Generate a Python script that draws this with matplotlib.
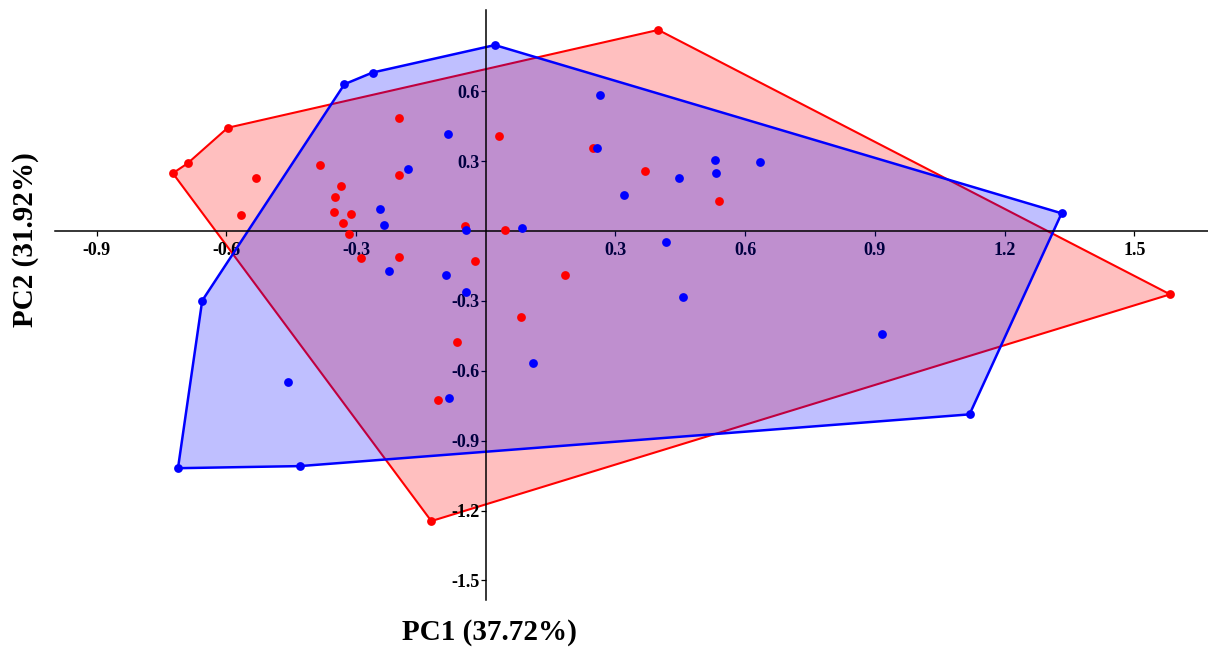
import numpy as np
import matplotlib
matplotlib.use('Agg')
import matplotlib.pyplot as plt
from matplotlib.patches import Polygon

plt.rcParams['font.family'] = ['Liberation Serif', 'DejaVu Serif']
plt.rcParams['font.weight'] = 'bold'
plt.rcParams['axes.unicode_minus'] = False

# group 1 (red) scores, hull vertices first
red_x = [-0.724, -0.690, -0.597, 0.399, 1.583, -0.126,
         -0.201, -0.384, -0.532, -0.567, -0.336, -0.349, -0.351, -0.312,
         -0.330, -0.316, -0.201, -0.289, -0.201, -0.048, -0.024, 0.031,
         0.247, 0.368, 0.539, 0.044, 0.184, 0.081, -0.066, -0.111]
red_y = [0.248, 0.290, 0.443, 0.863, -0.272, -1.245,
         0.486, 0.283, 0.229, 0.067, 0.195, 0.145, 0.080, 0.072,
         0.033, -0.013, 0.239, -0.114, -0.110, 0.023, -0.130, 0.408,
         0.358, 0.256, 0.129, 0.004, -0.189, -0.371, -0.478, -0.727]
red_hull = [0, 1, 2, 3, 4, 5]

# group 2 (blue) scores, hull vertices first
blue_x = [0.021, 1.332, 1.119, -0.430, -0.712, -0.656, -0.327, -0.262,
          -0.088, -0.181, -0.244, -0.236, -0.046, -0.224, -0.092, 0.265,
          0.258, 0.320, 0.448, 0.530, 0.532, 0.634, 0.084, 0.416,
          -0.045, 0.109, -0.086, 0.457, 0.916, -0.457]
blue_y = [0.798, 0.076, -0.787, -1.009, -1.018, -0.299, 0.630, 0.680,
          0.415, 0.266, 0.096, 0.024, 0.004, -0.170, -0.188, 0.585,
          0.358, 0.155, 0.226, 0.305, 0.249, 0.296, 0.014, -0.046,
          -0.263, -0.568, -0.715, -0.282, -0.442, -0.648]
blue_hull = [0, 1, 2, 3, 4, 5, 6, 7]

xticks = [-0.9, -0.6, -0.3, 0.3, 0.6, 0.9, 1.2, 1.5]
yticks = [0.6, 0.3, -0.3, -0.6, -0.9, -1.2, -1.5]

W, H = 1208, 649
fig = plt.figure(figsize=(W / 100, H / 100), dpi=100)
ax = fig.add_axes([55 / W, (H - 600) / H, (W - 55) / W, 590 / H])
ax.set_xlim(-0.9965, 1.6706)
ax.set_ylim(-1.5837, 0.9485)

rx, ry = np.array(red_x), np.array(red_y)
bx, by = np.array(blue_x), np.array(blue_y)

# hulls: red first so blue fill tints the red edge
ax.add_patch(Polygon(np.column_stack([rx[red_hull], ry[red_hull]]), closed=True,
                     facecolor=(1, 0, 0, 0.25), edgecolor='#ff0000', lw=1.5, zorder=1))
ax.add_patch(Polygon(np.column_stack([bx[blue_hull], by[blue_hull]]), closed=True,
                     facecolor=(0, 0, 1, 0.25), edgecolor='#0000ff', lw=1.8, zorder=2))

ax.scatter(rx, ry, s=40, color='#ff0000', linewidths=0, zorder=4)
ax.scatter(bx, by, s=40, color='#0000ff', linewidths=0, zorder=5)

# axes through the origin
ax.spines['left'].set_position(('data', 0))
ax.spines['bottom'].set_position(('data', 0))
ax.spines['top'].set_visible(False)
ax.spines['right'].set_visible(False)
for s in ['left', 'bottom']:
    ax.spines[s].set_linewidth(1.1)
    ax.spines[s].set_zorder(3)

ax.set_xticks(xticks)
ax.set_yticks(yticks)
ax.set_xticklabels(['%.1f' % v for v in xticks])
ax.set_yticklabels(['%.1f' % v for v in yticks])
ax.tick_params(axis='x', direction='out', length=3.6, width=0.9, pad=4, labelsize=13)
ax.tick_params(axis='y', direction='out', length=3.6, width=0.9, pad=1, labelsize=13)
for lab in ax.get_xticklabels() + ax.get_yticklabels():
    lab.set_fontweight('bold')

fig.text(489 / W, 1 - 632 / H, 'PC1 (37.72%)', ha='center', va='center',
         fontsize=21, fontweight='bold')
fig.text(26 / W, 1 - 240 / H, 'PC2 (31.92%)', ha='center', va='center',
         rotation=90, fontsize=21, fontweight='bold')

fig.savefig('out.png', dpi=100)
